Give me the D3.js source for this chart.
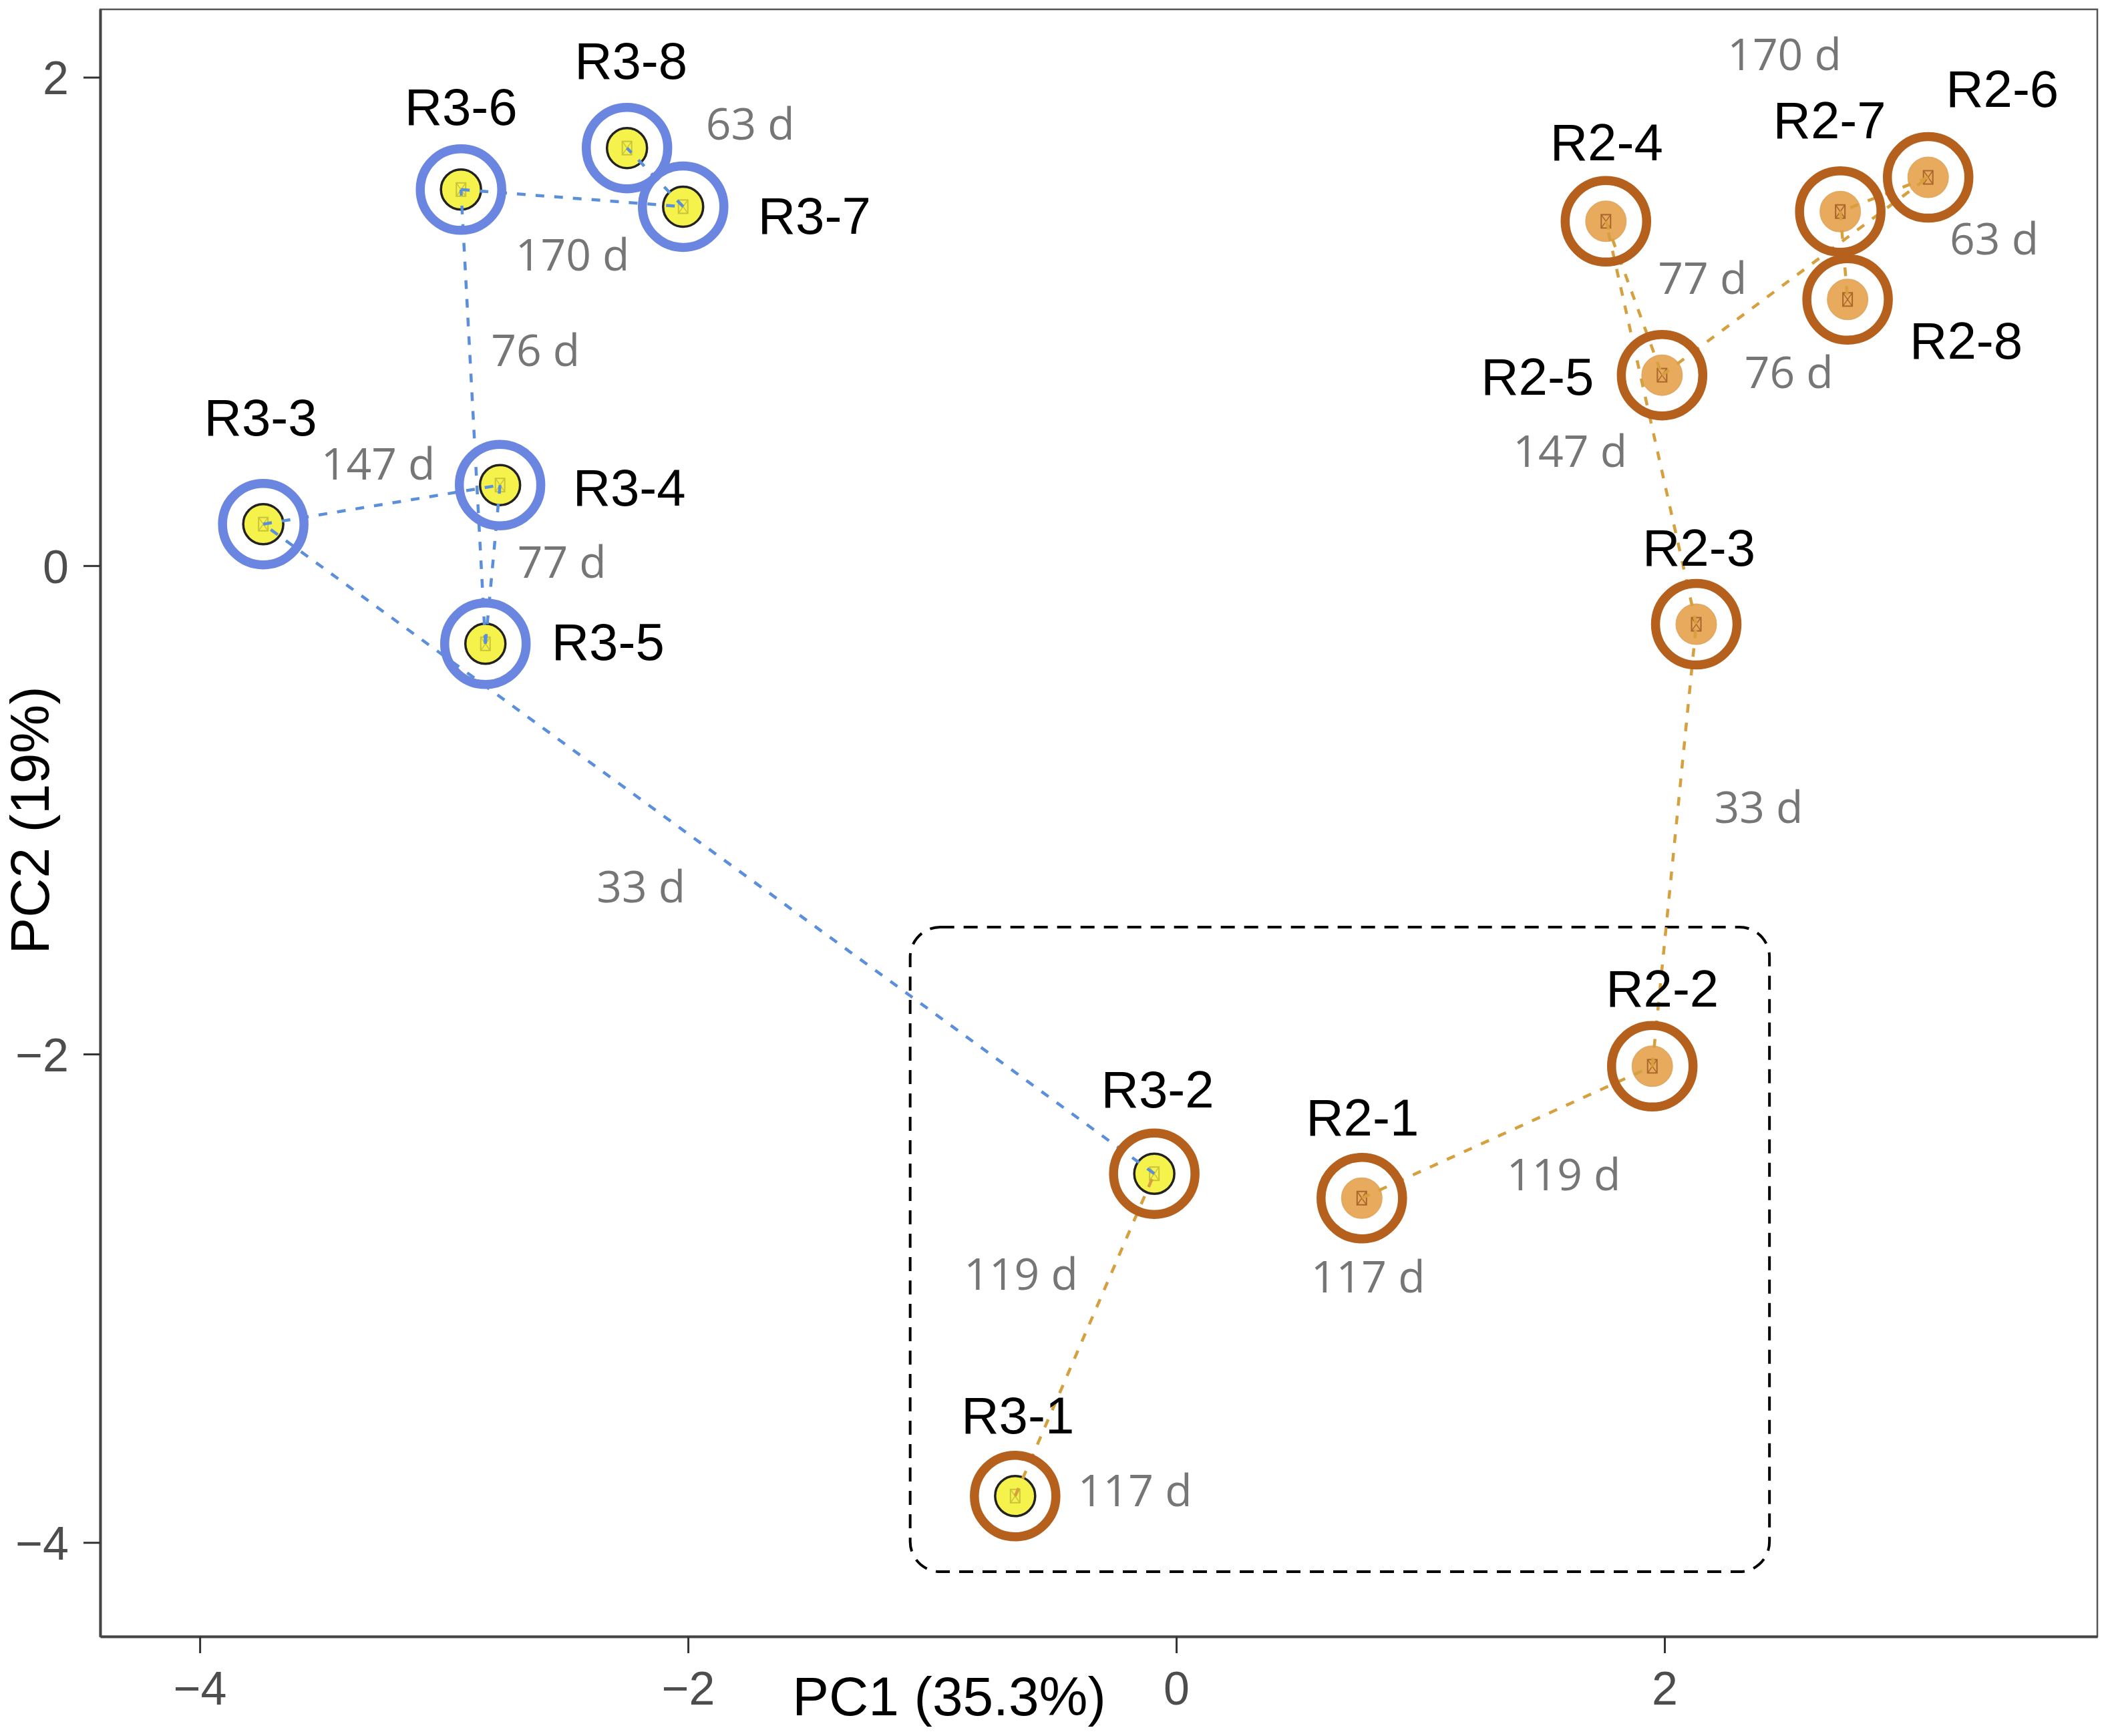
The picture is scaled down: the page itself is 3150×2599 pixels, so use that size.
<!DOCTYPE html>
<html>
<head>
<meta charset="utf-8">
<script src="https://cdn.jsdelivr.net/npm/d3@7"></script>
<style>
  html, body { margin: 0; padding: 0; background: #fff; }
  svg { display: block; }
  .name { font-family: "Liberation Sans", Arial, sans-serif; font-size: 78px; fill: #000; }
  .day { font-family: "Open Sans", sans-serif; font-size: 66px; fill: #767676; }
  .tick text { font-family: "Liberation Sans", Arial, sans-serif; font-size: 70px; fill: #4d4d4d; }
  .tick line { stroke: #333; stroke-width: 3; }
  .title { font-family: "Liberation Sans", Arial, sans-serif; font-size: 82px; fill: #000; }
</style>
</head>
<body>
<div id="chart"></div>
<script>
// sample trajectories on the first two principal components
const r3Names = ["R3-1", "R3-2", "R3-3", "R3-4", "R3-5", "R3-6", "R3-7", "R3-8"];
const r3PC1 = [-0.66, -0.09, -3.74, -2.77, -2.83, -2.93, -2.02, -2.25];
const r3PC2 = [-3.81, -2.49, 0.17, 0.33, -0.32, 1.54, 1.47, 1.71];
const r3Ring = ["early", "early", "late", "late", "late", "late", "late", "late"];

const r2Names = ["R2-1", "R2-2", "R2-3", "R2-4", "R2-5", "R2-6", "R2-7", "R2-8"];
const r2PC1 = [0.76, 1.95, 2.13, 1.76, 1.99, 3.08, 2.72, 2.75];
const r2PC2 = [-2.59, -2.05, -0.24, 1.41, 0.78, 1.59, 1.45, 1.09];
const r2Ring = ["early", "early", "early", "early", "early", "early", "early", "early"];

const sampleDays = [117, 119, 33, 147, 77, 76, 170, 63];

const xTicks = [-4, -2, 0, 2];
const yTicks = [-4, -2, 0, 2];
const xTitle = "PC1 (35.3%)";
const yTitle = "PC2 (19%)";

// highlighted region (data units)
const boxPC1 = [-1.09, 2.43];
const boxPC2 = [-4.12, -1.48];

// label placement (pixel nudges from the point, like ggrepel output)
const r3NameNudge = [["middle", 4, -94], ["middle", 5, -99], ["middle", -4, -133], ["start", 109, 31],
                     ["start", 99, 24], ["middle", 0, -97], ["start", 112, 41], ["middle", 6, -104]];
const r2NameNudge = [["middle", 1, -94], ["middle", 15, -89], ["middle", 4, -88], ["middle", 1, -91],
                     ["end", -102, 29], ["middle", 111, -106], ["middle", -16, -110], ["start", 93, 89]];
const r3DayNudge = [[94, 15], [-285, 174], [499, 566], [-268, -8], [48, -99], [45, 264], [-251, 96], [118, -13]];
const r2DayNudge = [[-76, 141], [-218, 186], [27, 297], [-139, 368], [-6, -122], [-275, 315], [-169, -212], [153, -67]];

const W = 3150, H = 2599;
const panel = { left: 150, right: 3140, top: 14, bottom: 2450 };

const ringColor = { early: "#b5611d", late: "#6a86e0" };
const lineColor = { early: "#d6a03f", late: "#5b8edb" };
const innerFill = { R3: "#f6f24c", R2: "#e8aa5c" };
const tofuColor = { R3: "#c8c43a", R2: "#a9662c" };

const series = [
  { key: "R3", names: r3Names, pc1: r3PC1, pc2: r3PC2, ring: r3Ring, nameNudge: r3NameNudge, dayNudge: r3DayNudge },
  { key: "R2", names: r2Names, pc1: r2PC1, pc2: r2PC2, ring: r2Ring, nameNudge: r2NameNudge, dayNudge: r2DayNudge }
];

const points = series.flatMap(s => s.names.map((name, i) => ({
  series: s.key, name, pc1: s.pc1[i], pc2: s.pc2[i], ring: s.ring[i],
  days: sampleDays[i], nameNudge: s.nameNudge[i], dayNudge: s.dayNudge[i]
})));

const segments = series.flatMap(s => d3.range(s.names.length - 1).map(i => ({
  x1: s.pc1[i], y1: s.pc2[i], x2: s.pc1[i + 1], y2: s.pc2[i + 1], ring: s.ring[i + 1]
})));

const x = d3.scaleLinear().domain([-4.408, 3.773]).range([panel.left, panel.right]);
const y = d3.scaleLinear().domain([-4.385, 2.278]).range([panel.bottom, panel.top]);

const svg = d3.select("#chart").append("svg").attr("width", W).attr("height", H);

// panel frame
svg.append("rect")
  .attr("x", panel.left).attr("y", panel.top)
  .attr("width", panel.right - panel.left).attr("height", panel.bottom - panel.top)
  .attr("fill", "none").attr("stroke", "#555").attr("stroke-width", 2.5);

// axes
const fmt = d3.format("d");
const xAxis = svg.append("g").attr("transform", `translate(0,${panel.bottom})`)
  .call(d3.axisBottom(x).tickValues(xTicks).tickFormat(fmt).tickSizeInner(25).tickSizeOuter(0).tickPadding(22));
const yAxis = svg.append("g").attr("transform", `translate(${panel.left},0)`)
  .call(d3.axisLeft(y).tickValues(yTicks).tickFormat(fmt).tickSizeInner(25).tickSizeOuter(0).tickPadding(22));
[xAxis, yAxis].forEach(a => a.select(".domain").attr("stroke", "#444").attr("stroke-width", 4));
xAxis.selectAll(".tick text").attr("dy", "0.78em");
yAxis.selectAll(".tick text").attr("dy", "0.36em");

svg.append("text").attr("class", "title")
  .attr("x", 1421).attr("y", 2568).attr("text-anchor", "middle").text(xTitle);
svg.append("text").attr("class", "title")
  .attr("transform", `translate(73,${1228}) rotate(-90)`)
  .attr("text-anchor", "middle").text(yTitle);

// dashed highlight box
svg.append("rect")
  .attr("x", x(boxPC1[0])).attr("y", y(boxPC2[1]))
  .attr("width", x(boxPC1[1]) - x(boxPC1[0])).attr("height", y(boxPC2[0]) - y(boxPC2[1]))
  .attr("rx", 45).attr("ry", 45)
  .attr("fill", "none").attr("stroke", "#000").attr("stroke-width", 4)
  .attr("stroke-dasharray", "21,14");

// inner points
const inner = svg.append("g").selectAll("g").data(points).join("g")
  .attr("transform", d => `translate(${x(d.pc1)},${y(d.pc2)})`);
inner.append("circle")
  .attr("r", 30)
  .attr("fill", d => innerFill[d.series])
  .attr("stroke", d => d.series === "R3" ? "#222" : "#e3a963")
  .attr("stroke-width", d => d.series === "R3" ? 3.5 : 2);
// missing-glyph box drawn in the middle of every point
inner.append("rect")
  .attr("x", -7).attr("y", -10).attr("width", 14).attr("height", 20)
  .attr("fill", "none").attr("stroke", d => tofuColor[d.series]).attr("stroke-width", 2);
inner.append("path")
  .attr("d", "M-7,-10L7,10M7,-10L-7,10")
  .attr("fill", "none").attr("stroke", d => tofuColor[d.series]).attr("stroke-width", 1.5);

// trajectories
svg.append("g").selectAll("line").data(segments).join("line")
  .attr("x1", d => x(d.x1)).attr("y1", d => y(d.y1))
  .attr("x2", d => x(d.x2)).attr("y2", d => y(d.y2))
  .attr("stroke", d => lineColor[d.ring]).attr("stroke-width", 4.5)
  .attr("stroke-dasharray", "13,15");

// outer rings
svg.append("g").selectAll("circle").data(points).join("circle")
  .attr("cx", d => x(d.pc1)).attr("cy", d => y(d.pc2))
  .attr("r", 61).attr("fill", "none")
  .attr("stroke", d => ringColor[d.ring]).attr("stroke-width", 13.5);

// sample names
svg.append("g").selectAll("text").data(points).join("text")
  .attr("class", "name")
  .attr("x", d => x(d.pc1) + d.nameNudge[1])
  .attr("y", d => y(d.pc2) + d.nameNudge[2])
  .attr("text-anchor", d => d.nameNudge[0])
  .text(d => d.name);

// sampling ages
svg.append("g").selectAll("text").data(points).join("text")
  .attr("class", "day")
  .attr("x", d => x(d.pc1) + d.dayNudge[0])
  .attr("y", d => y(d.pc2) + d.dayNudge[1])
  .text(d => `${d.days} d`);
</script>
</body>
</html>
